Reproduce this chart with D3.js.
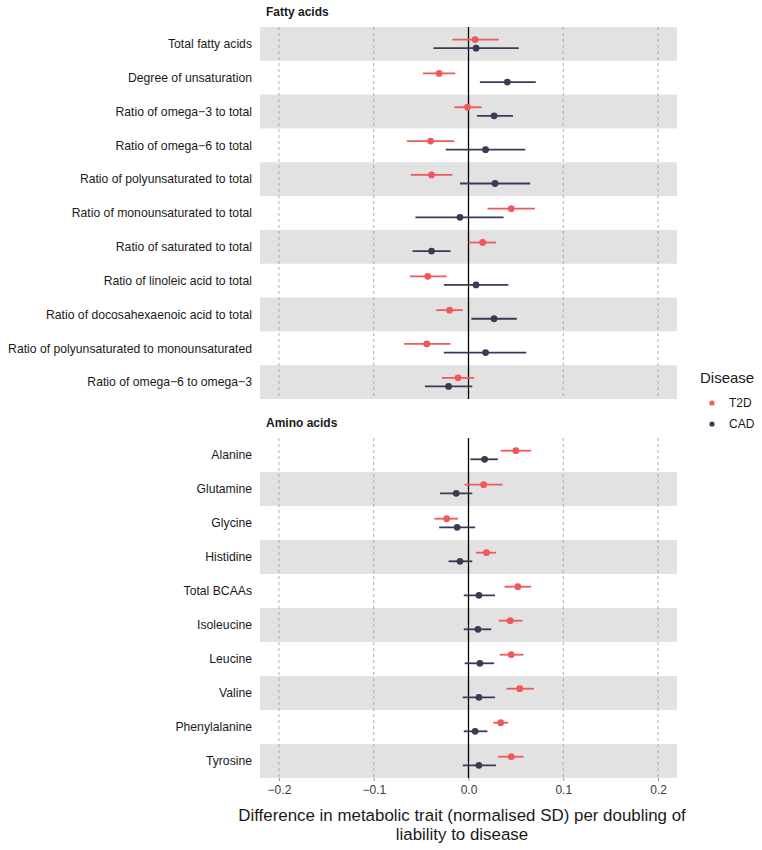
<!DOCTYPE html>
<html><head><meta charset="utf-8">
<script src="https://cdn.jsdelivr.net/npm/d3@7"></script>
<style>body{margin:0;background:#fff}svg{display:block}text{font-family:"Liberation Sans",Arial,Helvetica,sans-serif}</style>
</head><body><svg id="c" width="762" height="850"></svg>
<script>
const fattyTraits = ["Total fatty acids","Degree of unsaturation","Ratio of omega\u22123 to total","Ratio of omega\u22126 to total","Ratio of polyunsaturated to total","Ratio of monounsaturated to total","Ratio of saturated to total","Ratio of linoleic acid to total","Ratio of docosahexaenoic acid to total","Ratio of polyunsaturated to monounsaturated","Ratio of omega\u22126 to omega\u22123"];
const aminoTraits = ["Alanine","Glutamine","Glycine","Histidine","Total BCAAs","Isoleucine","Leucine","Valine","Phenylalanine","Tyrosine"];
const diseases = ["T2D","CAD"];
const colors = ["#F0585A","#363C57"];
// [estimate, lower, upper]
const fattyT2D = [[0.007,-0.017,0.032],[-0.031,-0.048,-0.014],[-0.001,-0.015,0.014],[-0.040,-0.065,-0.015],[-0.039,-0.061,-0.017],[0.045,0.020,0.070],[0.015,0.000,0.029],[-0.043,-0.062,-0.023],[-0.020,-0.034,-0.006],[-0.044,-0.068,-0.019],[-0.011,-0.028,0.006]];
const fattyCAD = [[0.008,-0.037,0.053],[0.041,0.012,0.071],[0.027,0.009,0.047],[0.018,-0.024,0.060],[0.028,-0.009,0.065],[-0.009,-0.056,0.037],[-0.039,-0.059,-0.019],[0.008,-0.026,0.042],[0.027,0.003,0.051],[0.018,-0.026,0.061],[-0.021,-0.046,0.004]];
const aminoT2D = [[0.050,0.034,0.066],[0.016,-0.004,0.036],[-0.023,-0.036,-0.011],[0.019,0.008,0.029],[0.052,0.038,0.066],[0.044,0.032,0.057],[0.045,0.033,0.058],[0.054,0.040,0.069],[0.034,0.026,0.042],[0.045,0.031,0.058]];
const aminoCAD = [[0.017,0.002,0.031],[-0.013,-0.030,0.004],[-0.012,-0.031,0.007],[-0.009,-0.021,0.004],[0.011,-0.005,0.028],[0.010,-0.005,0.024],[0.012,-0.004,0.027],[0.011,-0.006,0.028],[0.007,-0.005,0.020],[0.011,-0.006,0.029]];
const xTicks = [-0.2,-0.1,0.0,0.1,0.2];
const panelTitles = ["Fatty acids","Amino acids"];

const svg = d3.select("#c");
const x = d3.scaleLinear().domain([-0.22,0.22]).range([260,677]);
const panels = [
  {title:panelTitles[0], traits:fattyTraits, series:[fattyT2D,fattyCAD], top:27, bottom:399},
  {title:panelTitles[1], traits:aminoTraits, series:[aminoT2D,aminoCAD], top:438, bottom:778}
];
panels.forEach(p=>{
  const y = d3.scaleBand().domain(p.traits).range([p.top,p.bottom]);
  const n = p.traits.length;
  const g = svg.append("g");
  // bands (alternating, counted from the bottom row)
  g.selectAll("rect.band").data(p.traits.filter((d,i)=>(n-1-i)%2===0)).join("rect")
    .attr("x",x.range()[0]).attr("width",x.range()[1]-x.range()[0])
    .attr("y",d=>y(d)).attr("height",y.bandwidth()).attr("fill","#E3E2E2");
  // grid
  g.selectAll("line.grid").data(xTicks.filter(t=>t!==0)).join("line")
    .attr("x1",d=>x(d)).attr("x2",d=>x(d)).attr("y1",p.top).attr("y2",p.bottom)
    .attr("stroke","#9a9a9a").attr("stroke-width",0.8).attr("stroke-dasharray","3,3");
  // zero
  g.append("line").attr("x1",x(0)).attr("x2",x(0)).attr("y1",p.top).attr("y2",p.bottom)
    .attr("stroke","#000").attr("stroke-width",1.3);
  // labels
  g.selectAll("text.lab").data(p.traits).join("text")
    .attr("x",252).attr("y",d=>y(d)+y.bandwidth()/2).attr("dy","0.35em")
    .attr("text-anchor","end").attr("font-size",12.2).attr("fill","#1a1a1a").text(d=>d);
  // title
  g.append("text").attr("x",266).attr("y",p.top-11).attr("font-size",12).attr("font-weight","bold")
    .attr("fill","#1a1a1a").text(p.title);
  // series
  const off = [-4.3,4.3];
  p.series.forEach((s,si)=>{
    const sg = g.append("g");
    sg.selectAll("line").data(s).join("line")
      .attr("x1",d=>x(d[1])).attr("x2",d=>x(d[2]))
      .attr("y1",(d,i)=>y(p.traits[i])+y.bandwidth()/2+off[si])
      .attr("y2",(d,i)=>y(p.traits[i])+y.bandwidth()/2+off[si])
      .attr("stroke",colors[si]).attr("stroke-width",1.8);
    sg.selectAll("circle").data(s).join("circle")
      .attr("cx",d=>x(d[0])).attr("cy",(d,i)=>y(p.traits[i])+y.bandwidth()/2+off[si])
      .attr("r",3.4).attr("fill",colors[si]);
  });
});
// x axis
const ax = svg.append("g").attr("transform","translate(0,778)")
  .call(d3.axisBottom(x).tickValues(xTicks).tickFormat(d=>d3.format(".1f")(d).replace("-","\u2212")).tickSize(3).tickPadding(4));
ax.select(".domain").remove();
ax.selectAll(".tick line").attr("stroke","#9a9a9a");
ax.selectAll(".tick text").attr("font-size",12).attr("fill","#3a3a3a").attr("font-family","'Liberation Sans',Arial,sans-serif");
svg.append("text").attr("x",462).attr("y",821).attr("text-anchor","middle").attr("font-size",16.9).attr("fill","#1a1a1a")
  .text("Difference in metabolic trait (normalised SD) per doubling of");
svg.append("text").attr("x",462).attr("y",840).attr("text-anchor","middle").attr("font-size",16.9).attr("fill","#1a1a1a")
  .text("liability to disease");
// legend
const lg = svg.append("g");
lg.append("text").attr("x",700).attr("y",383).attr("font-size",15).attr("fill","#1a1a1a").text("Disease");
diseases.forEach((d,i)=>{
  lg.append("circle").attr("cx",712).attr("cy",403+i*21).attr("r",2.6).attr("fill",colors[i]);
  lg.append("text").attr("x",729).attr("y",403+i*21).attr("dy","0.35em").attr("font-size",12).attr("fill","#1a1a1a").text(d);
});
</script></body></html>
